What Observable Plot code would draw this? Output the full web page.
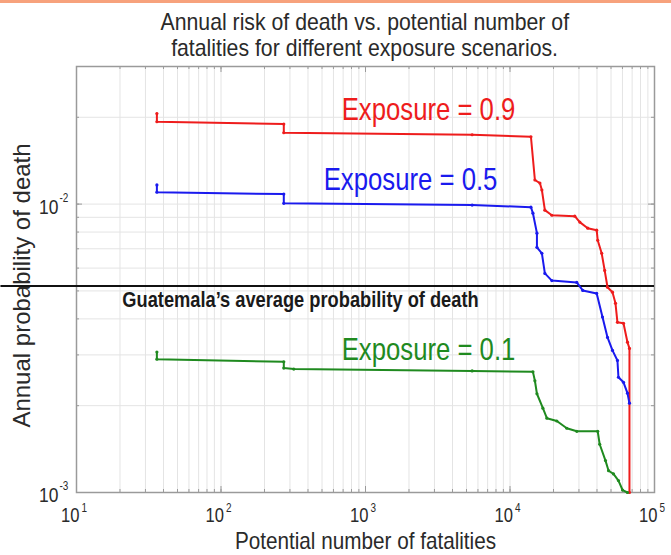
<!DOCTYPE html>
<html>
<head>
<meta charset="utf-8">
<script src="https://cdn.jsdelivr.net/npm/d3@7"></script>
<script src="https://cdn.jsdelivr.net/npm/@observablehq/plot@0.6"></script>
<style>
  html, body { margin: 0; padding: 0; background: #fff; }
  #wrap { width: 671px; height: 555px; position: relative; overflow: hidden; }
  #bar { height: 3px; background: #f7a27c; }
  #title {
    height: 59px; box-sizing: border-box; padding: 6px 17px 0 76px;
    font-family: "Liberation Sans", Arial, sans-serif;
    font-size: 24px; line-height: 26px; color: #2a2a2a; text-align: center;
  }
  #title span { display: inline-block; white-space: nowrap; transform: scaleX(0.885); transform-origin: center; }
  svg { display: block; }
</style>
</head>
<body>
<div id="wrap">
  <div id="bar"></div>
  <div id="title"></div>
  <div id="chart"></div>
</div>
<script>
const titleLines = ["Annual risk of death vs. potential number of", "fatalities for different exposure scenarios."];
const xLabel = "Potential number of fatalities";
const yLabel = "Annual probability of death";
const xTickExps = [1, 2, 3, 4, 5];
const yTickExps = [-3, -2];
const xDomain = [10, 1e5];
const yDomain = [1e-3, 0.03];

// Exposure = 0.9
const redN = [36, 36, 272, 272, 5470, 13960, 14870, 16100, 16620, 17430, 19480, 28070, 30400, 34510, 39810, 40450, 43100, 45200, 47300, 51200, 53700, 55400, 61000, 65000, 67100, 67100];
const redP = [0.0206, 0.0193, 0.01895, 0.01768, 0.0174, 0.01712, 0.01212, 0.01183, 0.01119, 0.00953, 0.00915, 0.00908, 0.00866, 0.00825, 0.00812, 0.00749, 0.00675, 0.00589, 0.00515, 0.00495, 0.00453, 0.00389, 0.00386, 0.00332, 0.00316, 0.001];
// Exposure = 0.5
const blueN = [36, 36, 272, 272, 5470, 13960, 14410, 15360, 15360, 16620, 17430, 19480, 28980, 31870, 39810, 43650, 47300, 51200, 55400, 56300, 61000, 65000, 67100];
const blueP = [0.01165, 0.0110, 0.01083, 0.01006, 0.00992, 0.00976, 0.0093, 0.00793, 0.00708, 0.00675, 0.00575, 0.00543, 0.00535, 0.00502, 0.0049, 0.00406, 0.00345, 0.00311, 0.00287, 0.00251, 0.00241, 0.00221, 0.00204];
// Exposure = 0.1
const greenN = [36, 36, 272, 272, 319, 5470, 14410, 14870, 15360, 16890, 18000, 21090, 24720, 28980, 40450, 41750, 45800, 48100, 52000, 56300, 60100, 65000];
const greenP = [0.00307, 0.0029, 0.00284, 0.0027, 0.00268, 0.00264, 0.00262, 0.00244, 0.0022, 0.00196, 0.00181, 0.00177, 0.00167, 0.00163, 0.00163, 0.00147, 0.00129, 0.00119, 0.00116, 0.0011, 0.00102, 0.001];

const seriesNames = ["Exposure = 0.9", "Exposure = 0.5", "Exposure = 0.1"];
const seriesColors = ["#ee1c1c", "#1a1aee", "#1f8a1f"];
// label anchor positions (data space)
const labelN = [2730, 2050, 2730];
const labelP = [0.0212, 0.01212, 0.00311];

const guatemalaP = 0.0052;
const guatemalaText = "Guatemala\u2019s average probability of death";
const guatemalaTextN = 355;
const lineStartN = 3;

const titleEl = document.getElementById("title");
titleLines.forEach(l => {
  const d = document.createElement("div");
  const s = document.createElement("span");
  s.textContent = l;
  d.appendChild(s);
  titleEl.appendChild(d);
});

const toRows = (N, P, s) => N.map((n, i) => ({n, p: P[i], s}));
const rows = [
  ...toRows(redN, redP, seriesNames[0]),
  ...toRows(blueN, blueP, seriesNames[1]),
  ...toRows(greenN, greenP, seriesNames[2])
];
const labels = seriesNames.map((s, i) => ({s, n: labelN[i], p: labelP[i]}));

const xMinor = [], yMinor = [];
for (let e = 1; e < 5; e++) for (let k = 1; k <= 9; k++) xMinor.push(k * 10 ** e);
xMinor.push(1e5);
for (let e = -3; e < -1; e++) for (let k = 1; k <= 9; k++) { const v = k * 10 ** e; if (v <= 0.0300001) yMinor.push(v); }
const xMajor = xTickExps.map(d => 10 ** d);
const yMajor = yTickExps.map(d => 10 ** d);

const W = 671, H = 493, mL = 76, mR = 17, mT = 4, mB = 63;
const fw = W - mL - mR, fh = H - mT - mB;
const sans = "Liberation Sans, Arial, sans-serif";
const textCol = "#2a2a2a";
const axisCol = "#9a9a9a";

const chart = Plot.plot({
  width: W, height: H,
  marginLeft: mL, marginRight: mR, marginTop: mT, marginBottom: mB,
  style: {fontFamily: sans, background: "white", overflow: "visible"},
  x: {type: "log", domain: xDomain, axis: null},
  y: {type: "log", domain: yDomain, axis: null},
  color: {domain: seriesNames, range: seriesColors},
  marks: [
    Plot.ruleX(xMinor, {stroke: "#e4e4e4", strokeWidth: 1}),
    Plot.ruleY(yMinor, {stroke: "#e4e4e4", strokeWidth: 1}),
    // minor ticks
    Plot.tickX(xMinor, {x: d => d, stroke: axisCol, insetTop: fh - 3}),
    Plot.tickX(xMinor, {x: d => d, stroke: axisCol, insetBottom: fh - 3}),
    Plot.tickY(yMinor, {y: d => d, stroke: axisCol, insetRight: fw - 3}),
    Plot.tickY(yMinor, {y: d => d, stroke: axisCol, insetLeft: fw - 3}),
    // major ticks
    Plot.tickX(xMajor, {x: d => d, stroke: axisCol, insetTop: fh - 6}),
    Plot.tickX(xMajor, {x: d => d, stroke: axisCol, insetBottom: fh - 6}),
    Plot.tickY(yMajor, {y: d => d, stroke: axisCol, insetRight: fw - 6}),
    Plot.tickY(yMajor, {y: d => d, stroke: axisCol, insetLeft: fw - 6}),
    Plot.frame({stroke: axisCol, strokeWidth: 1.5}),
    // tick labels
    Plot.text(xTickExps, {x: d => 10 ** d, text: () => "10", frameAnchor: "bottom", textAnchor: "end", lineAnchor: "middle", dx: 3, dy: 23, fontSize: 20, fill: textCol}),
    Plot.text(xTickExps, {x: d => 10 ** d, text: d => String(d), frameAnchor: "bottom", textAnchor: "start", lineAnchor: "middle", dx: 5, dy: 16, fontSize: 12, fill: textCol}),
    Plot.text(yTickExps, {y: d => 10 ** d, text: () => "10", frameAnchor: "left", textAnchor: "end", lineAnchor: "middle", dx: -18, dy: 3, fontSize: 21, fill: textCol}),
    Plot.text(yTickExps, {y: d => 10 ** d, text: d => String(d), frameAnchor: "left", textAnchor: "start", lineAnchor: "middle", dx: -17, dy: -6, fontSize: 12, fill: textCol}),
    // axis labels
    Plot.text([xLabel], {text: d => d, frameAnchor: "bottom", textAnchor: "middle", lineAnchor: "middle", dy: 49, fontSize: 23, fill: textCol}),
    Plot.text([yLabel], {text: d => d, frameAnchor: "left", textAnchor: "middle", lineAnchor: "middle", dx: -54, dy: 6, rotate: -90, fontSize: 24, fill: textCol}),
    // Guatemala reference line
    Plot.ruleY([guatemalaP], {x1: lineStartN, x2: xDomain[1], stroke: "#111", strokeWidth: 2}),
    Plot.text([guatemalaText], {x: guatemalaTextN, y: guatemalaP, text: d => d, dy: 14, fontSize: 22, fontWeight: "bold", fill: "#1a1a1a"}),
    // series
    Plot.line(rows, {x: "n", y: "p", z: "s", stroke: "s", strokeWidth: 2}),
    Plot.dot(rows, {x: "n", y: "p", fill: "s", r: 1.6}),
    Plot.text(labels, {x: "n", y: "p", text: "s", fill: "s", fontSize: 31})
  ]
});

// Horizontal texts in the reference are drawn condensed: squeeze them about their anchor.
chart.querySelectorAll("text").forEach(t => {
  if (t.textContent === yLabel) return;
  const x = +(t.getAttribute("x") || 0);
  const k = t.textContent === xLabel ? 0.9 : 0.83;
  const tr = t.getAttribute("transform") || "";
  t.setAttribute("transform", `${tr} translate(${x},0) scale(${k},1) translate(${-x},0)`.trim());
});
document.getElementById("chart").appendChild(chart);
</script>
</body>
</html>
